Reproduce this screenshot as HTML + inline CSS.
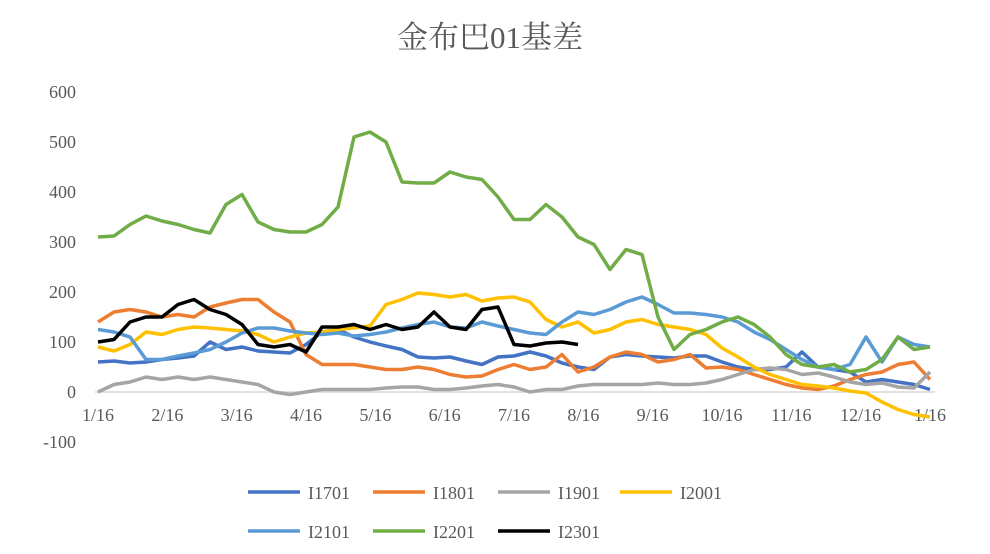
<!DOCTYPE html>
<html><head><meta charset="utf-8"><style>
body{margin:0;background:#fff}
svg{display:block;font-family:"Liberation Serif","Noto Serif CJK SC",serif}
</style></head><body>
<svg id="chart" width="990" height="554">
<text x="490" y="48" text-anchor="middle" font-size="31" fill="#595959" font-family="Liberation Serif, Noto Serif CJK SC, serif">金布巴01基差</text>
<g id="yaxis"></g>
<g id="xaxis"></g>
<g id="series"></g>
<g id="legend"></g>
</svg>
<script>
const xLabels=["1/16","2/16","3/16","4/16","5/16","6/16","7/16","8/16","9/16","10/16","11/16","12/16","1/16"];
const yTicks=[600,500,400,300,200,100,0,-100];
const seriesNames=["I1701","I1801","I1901","I2001","I2101","I2201","I2301"];
const seriesColors=["#4472C4","#ED7D31","#A5A5A5","#FFC000","#5B9BD5","#70AD47","#000000"];
const i1701=[60,62,58,60,65,68,72,100,85,90,82,80,78,95,120,125,110,100,92,85,70,68,70,62,55,70,72,80,72,58,50,45,70,75,72,70,68,72,72,60,50,45,45,50,80,50,45,40,20,25,20,15,5];
const i1801=[140,160,165,160,150,155,150,170,178,185,185,160,140,75,55,55,55,50,45,45,50,45,35,30,32,45,55,45,50,75,40,50,70,80,75,60,65,75,48,50,45,35,25,15,8,5,12,25,35,40,55,60,25];
const i1901=[0,15,20,30,25,30,25,30,25,20,15,0,-5,0,5,5,5,5,8,10,10,5,5,8,12,15,10,0,5,5,12,15,15,15,15,18,15,15,18,25,35,45,48,45,35,38,30,20,15,18,10,8,40];
const i2001=[90,82,95,120,115,125,130,128,125,122,115,100,110,118,120,125,128,132,175,185,198,195,190,195,182,188,190,180,145,130,140,118,125,140,145,135,130,125,115,88,70,50,35,25,15,12,8,2,-2,-20,-35,-45,-50];
const i2101=[125,120,110,65,65,72,78,85,100,118,128,128,122,118,115,118,112,115,120,128,135,140,130,128,140,132,125,118,115,140,160,155,165,180,190,175,158,158,155,150,140,120,105,85,65,50,45,55,110,60,110,95,90];
const i2201=[310,312,335,352,342,335,325,318,375,395,340,325,320,320,335,370,510,520,500,420,418,418,440,430,425,390,345,345,375,350,310,295,245,285,275,150,85,115,125,140,150,135,110,75,55,50,55,40,45,65,110,85,90];
const i2301=[100,105,140,150,150,175,185,165,155,135,95,90,95,80,130,130,135,125,135,125,130,160,130,125,165,170,95,92,98,100,95];
const allSeries=[i1701,i1801,i1901,i2001,i2101,i2201,i2301];
const NS="http://www.w3.org/2000/svg";
const X0=98,X1=930,NPTS=53;
function xPos(i){return X0+i*(X1-X0)/(NPTS-1);}
function yPos(v){return 392-v*0.5;}
function xLab(i){return X0+i*(X1-X0)/(xLabels.length-1);}
function mk(tag,attrs,parent){const e=document.createElementNS(NS,tag);for(const k in attrs)e.setAttribute(k,attrs[k]);parent.appendChild(e);return e;}
const ya=document.getElementById('yaxis'),xa=document.getElementById('xaxis'),sg=document.getElementById('series'),lg=document.getElementById('legend');
yTicks.forEach(v=>{const t=mk('text',{x:76,y:yPos(v)+6,'text-anchor':'end','font-size':18,fill:'#595959'},ya);


t.textContent=v;});
const ax=mk('line',{x1:95,x2:935,y1:yPos(0),y2:yPos(0),stroke:'#d9d9d9','stroke-width':1.5},xa);


xLabels.forEach((l,i)=>{const t=mk('text',{x:xLab(i),y:421,'text-anchor':'middle','font-size':18,fill:'#595959'},xa);


t.textContent=l;});
allSeries.forEach((arr,s)=>{let d='';arr.forEach((v,i)=>{if(v==null)return;d+=(d?'L':'M')+xPos(i).toFixed(1)+' '+yPos(v).toFixed(1);});
const p=mk('path',{d:d,fill:'none',stroke:seriesColors[s],'stroke-width':3.5,'stroke-linejoin':'round'},sg);

});
const legPos=[[248,492],[373,492],[498,492],[620,492],[248,531],[373,531],[498,531]];
seriesNames.forEach((n,s)=>{const [lx,ly]=legPos[s];
const g=mk('g',{},lg);


mk('line',{x1:lx,x2:lx+52,y1:ly,y2:ly,stroke:seriesColors[s],'stroke-width':3.5},g);
const t=mk('text',{x:lx+60,y:ly+7,'font-size':18,fill:'#595959'},g);t.textContent=n;});
</script>
</body></html>
